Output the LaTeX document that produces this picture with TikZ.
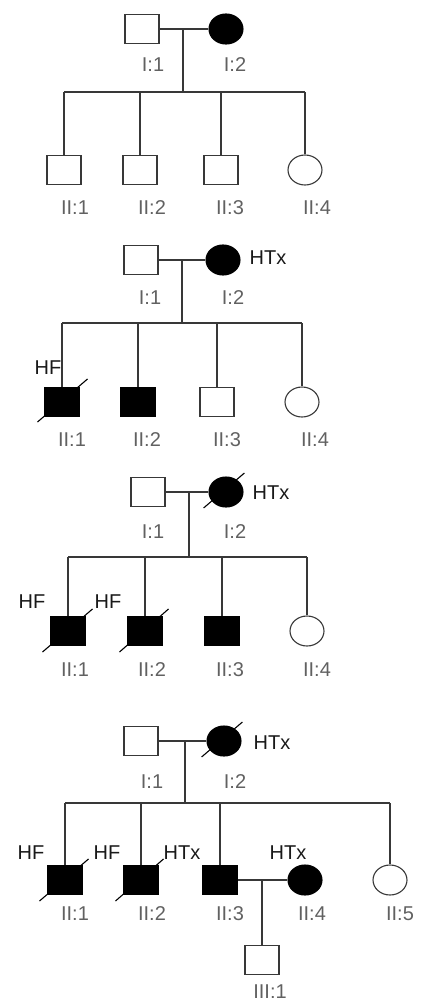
\documentclass[tikz,border=0pt]{standalone}
\usepackage{fontspec}
\setmainfont{Liberation Sans}
\usetikzlibrary{calc,shapes.geometric}
\definecolor{linegray}{gray}{0.22}
\definecolor{idgray}{gray}{0.38}
\begin{document}
\begin{tikzpicture}[x=1pt,y=-1pt,
  male/.style={draw=linegray,line width=1.1pt,rectangle,minimum width=34pt,minimum height=29pt,inner sep=0pt,fill=white},
  female/.style={draw=linegray,line width=1.1pt,ellipse,minimum width=34pt,minimum height=30pt,inner sep=0pt,fill=white},
  aff/.style={fill=black,draw=black},
  idlab/.style={text=idgray,font=\fontsize{20}{22}\selectfont,inner sep=0pt},
  note/.style={text=black!90,font=\fontsize{20}{22}\selectfont,inner sep=0pt},
  link/.style={draw=linegray,line width=1.1pt},
  slash/.style={draw=black,line width=1.1pt}]
\useasboundingbox (0,0) rectangle (423,1005);

% ---------- family A ----------
\node[male] (a11) at (142,29) {};
\node[female,aff] (a12) at (226,29) {};
\coordinate (a1m) at (183,29);
\coordinate (a1s) at (183,92);
\node[male] (a21) at (64,170) {};
\node[male] (a22) at (140,170) {};
\node[male] (a23) at (221,170) {};
\node[female] (a24) at (305,170) {};
\draw[link] (a11) -- (a12);
\draw[link] (a1m) -- (a1s);
\draw[link] (a21 |- a1s) -- (a24 |- a1s);
\foreach \n in {a21,a22,a23,a24} \draw[link] (\n |- a1s) -- (\n);
\node[idlab] (a11l) at (153,65) {I:1};
\node[idlab] (a12l) at (235,65) {I:2};
\node[idlab] (a21l) at (75,208) {II:1};
\node[idlab] (a22l) at (152,208) {II:2};
\node[idlab] (a23l) at (230,208) {II:3};
\node[idlab] (a24l) at (317,208) {II:4};

% ---------- family B ----------
\node[male] (b11) at (141,260) {};
\node[female,aff] (b12) at (223,260) {};
\coordinate (b1m) at (182,260);
\coordinate (b1s) at (182,323);
\node[male,aff] (b21) at (62,402) {};
\node[male,aff] (b22) at (138,402) {};
\node[male] (b23) at (217,402) {};
\node[female] (b24) at (302,402) {};
\draw[link] (b11) -- (b12);
\draw[link] (b1m) -- (b1s);
\draw[link] (b21 |- b1s) -- (b24 |- b1s);
\foreach \n in {b21,b22,b23,b24} \draw[link] (\n |- b1s) -- (\n);
\draw[slash] ($(b21.south west)+(-7,5)$) -- ($(b21.north east)+(8,-8)$);
\node[idlab] (b11l) at (150,298) {I:1};
\node[idlab] (b12l) at (233,298) {I:2};
\node[idlab] (b21l) at (72,440) {II:1};
\node[idlab] (b22l) at (147,440) {II:2};
\node[idlab] (b23l) at (227,440) {II:3};
\node[idlab] (b24l) at (315,440) {II:4};
\node[note] (b12n) at (268,258) {HTx};
\node[note] (b21n) at (48,368) {HF};

% ---------- family C ----------
\node[male] (c11) at (148,492) {};
\node[female,aff] (c12) at (226,492) {};
\coordinate (c1m) at (189,492);
\coordinate (c1s) at (189,557);
\node[male,aff] (c21) at (68,631) {};
\node[male,aff] (c22) at (145,631) {};
\node[male,aff] (c23) at (222,631) {};
\node[female] (c24) at (307,631) {};
\draw[link] (c11) -- (c12);
\draw[link] (c1m) -- (c1s);
\draw[link] (c21 |- c1s) -- (c24 |- c1s);
\foreach \n in {c21,c22,c23,c24} \draw[link] (\n |- c1s) -- (\n);
\draw[slash] ($(c12.south west)+(-10,5)$) -- ($(c12.north east)+(6,-8)$);
\draw[slash] ($(c21.south west)+(-8,6)$) -- ($(c21.north east)+(7,-7)$);
\draw[slash] ($(c22.south west)+(-8,6)$) -- ($(c22.north east)+(6,-7)$);
\node[idlab] (c11l) at (153,532) {I:1};
\node[idlab] (c12l) at (235,532) {I:2};
\node[idlab] (c21l) at (75,670) {II:1};
\node[idlab] (c22l) at (152,670) {II:2};
\node[idlab] (c23l) at (230,670) {II:3};
\node[idlab] (c24l) at (317,670) {II:4};
\node[note] (c12n) at (271,493) {HTx};
\node[note] (c21n) at (32,602) {HF};
\node[note] (c22n) at (108,602) {HF};

% ---------- family D ----------
\node[male] (d11) at (141,741) {};
\node[female,aff] (d12) at (224,741) {};
\coordinate (d1m) at (185,741);
\coordinate (d1s) at (185,803);
\node[male,aff] (d21) at (65,880) {};
\node[male,aff] (d22) at (141,880) {};
\node[male,aff] (d23) at (220,880) {};
\node[female,aff] (d24) at (305,880) {};
\node[female] (d25) at (390,880) {};
\node[male] (d31) at (262,960) {};
\coordinate (d2m) at (262,880);
\draw[link] (d11) -- (d12);
\draw[link] (d1m) -- (d1s);
\draw[link] (d21 |- d1s) -- (d25 |- d1s);
\foreach \n in {d21,d22,d23,d25} \draw[link] (\n |- d1s) -- (\n);
\draw[link] (d23) -- (d24);
\draw[link] (d2m) -- (d31);
\draw[slash] ($(d12.south west)+(-10,5)$) -- ($(d12.north east)+(6,-8)$);
\draw[slash] ($(d21.south west)+(-8,6)$) -- ($(d21.north east)+(6,-6)$);
\draw[slash] ($(d22.south west)+(-8,6)$) -- ($(d22.north east)+(5,-6)$);
\node[idlab] (d11l) at (152,782) {I:1};
\node[idlab] (d12l) at (235,782) {I:2};
\node[idlab] (d21l) at (75,914) {II:1};
\node[idlab] (d22l) at (152,914) {II:2};
\node[idlab] (d23l) at (230,914) {II:3};
\node[idlab] (d24l) at (312,914) {II:4};
\node[idlab] (d25l) at (400,914) {II:5};
\node[idlab] (d31l) at (270,992) {III:1};
\node[note] (d12n) at (272,743) {HTx};
\node[note] (d21n) at (31,853) {HF};
\node[note] (d22n) at (107,853) {HF};
\node[note] (d23n) at (182,853) {HTx};
\node[note] (d24n) at (288,853) {HTx};
\end{tikzpicture}
\end{document}
